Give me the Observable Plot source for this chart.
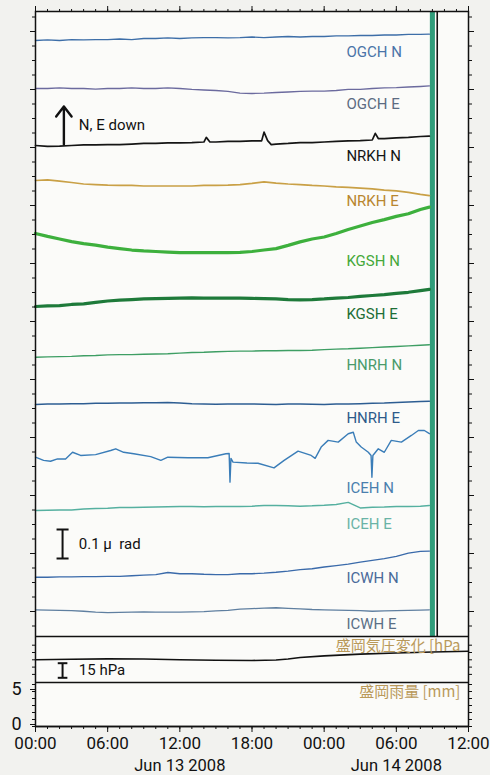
<!DOCTYPE html>
<html><head><meta charset="utf-8">
<script src="https://cdn.jsdelivr.net/npm/d3@7"></script>
<script src="https://cdn.jsdelivr.net/npm/@observablehq/plot@0.6"></script>
<style>
html,body{margin:0;padding:0;background:#f2f2ef;}
#chart{width:490px;height:775px;}
</style></head><body><div id="chart"></div>
<script>
// ================= DATA =================
// time in hours after 2008-06-13 00:00 (JST)
const hours = [0,1,2,3,4,5,6,7,8,9,10,11,12,13,14,15,16,17,18,19,20,21,22,23,24,25,26,27,28,29,30,31,32,32.75];
// tilt change (nrad), N / E down positive
const OGCH_N = [0,2,0,3,2,3,3,5,3,7,7,9,7,9,10,10,9,10,12,10,12,14,12,14,14,16,16,17,17,19,19,21,21,22];
const OGCH_E = [0,0,2,0,0,-2,0,0,2,0,0,2,0,-3,-5,-7,-10,-16,-17,-16,-14,-12,-10,-9,-9,-7,-3,-3,0,2,3,5,7,9];
const NRKH_N_hours = [0,1,2,3,4,5,6,7,8,9,10,11,12,13,14,14.2,14.5,15,16,17,18,18.8,19.0,19.3,19.6,20,21,22,23,24,25,26,27,28,28.25,28.5,29,30,31,32,32.75];
const NRKH_N = [0,-3,-2,0,2,2,3,3,5,7,7,9,9,10,12,28,12,12,14,14,16,16,46,17,3,5,7,10,10,12,14,16,17,19,42,24,24,26,28,31,32];
const NRKH_E = [0,2,-2,-7,-12,-14,-16,-17,-17,-19,-19,-19,-19,-19,-17,-17,-16,-14,-10,-5,-9,-12,-14,-17,-19,-22,-24,-26,-29,-33,-36,-41,-48,-52];
const KGSH_N = [0,-10,-19,-28,-35,-40,-47,-52,-57,-60,-62,-64,-66,-66,-66,-66,-66,-65,-62,-57,-52,-41,-29,-19,-12,0,14,26,38,48,59,68,83,91];
const KGSH_E = [0,2,3,7,9,14,19,22,24,26,27,28,29,30,29,29,29,29,28,27,26,24,23,24,26,29,31,35,38,41,45,49,55,59];
const HNRH_N = [0,1,2,3,5,6,8,9,9,10,11,12,14,16,17,19,20,21,21,22,22,23,23,24,26,28,29,31,33,35,37,39,41,43];
const HNRH_E = [0,2,2,3,3,4,4,5,5,6,6,7,5,3,2,1,2,2,2,1,0,2,2,1,0,2,2,3,4,5,7,9,10,11];
const ICEH_N_hours = [0,0.67,1.25,1.83,2.5,3.08,3.75,5.0,6.25,6.67,7.33,8.17,9.58,10.42,11.0,12.67,14.33,15.83,16.1,16.17,16.25,16.42,17.58,18.5,19.83,20.67,21.83,22.92,23.25,23.75,24.33,25.17,26.0,26.42,26.67,27.08,27.67,27.9,27.97,28.05,28.5,29.0,29.58,30.42,31.25,31.83,32.33,32.75];
const ICEH_N = [0,-11,-14,-6,-6,17,6,9,23,29,17,12,2,-11,0,-2,-2,12,13,-86,-4,-17,-20,-21,-37,-11,21,6,-4,35,58,52,81,86,52,35,17,6,-69,6,29,17,58,52,75,92,92,81];
const ICEH_E = [0,1,2,2,5,7,8,10,10,11,12,13,14,14,13,14,14,14,15,17,17,16,15,16,18,21,28,9,11,12,14,14,15,17];
const ICWH_N = [0,0,1,1,2,2,3,3,5,7,9,16,12,12,10,9,9,12,12,14,17,21,26,29,35,40,45,52,58,64,72,83,89,90];
const ICWH_E = [0,-1,-2,-3,-5,-8,-10,-9,-8,-7,-8,-8,-8,-7,-6,-4,-2,2,4,6,7,5,3,1,0,-1,-2,-3,-5,-4,-3,-2,-1,0];
// Morioka pressure change (hPa) and rainfall (mm)
const pressureHours = [0,3,6,9,12,15,18,20,21,22,24,27,30,33,36];
const pressure = [0,0.5,1,0.8,0,-0.5,-0.7,-0.2,0.8,2.3,4,5.8,7,8,8.8];
const rainHours = [0,6,12,18,24,30,36];
const rain = [0,0,0,0,0,0,0];
// earthquake marker (hours)
const eventBand = [32.83, 33.25];
const eventLine = 33.4;
// labels
const stationNames = ["OGCH N","OGCH E","NRKH N","NRKH E","KGSH N","KGSH E","HNRH N","HNRH E","ICEH N","ICEH E","ICWH N","ICWH E"];
const tickHours = [0,6,12,18,24,30,36];
const tickLabels = ["00:00","06:00","12:00","18:00","00:00","06:00","12:00"];
const dateHours = [12,30];
const dateLabels = ["Jun 13 2008","Jun 14 2008"];
const rainTickLabels = ["0","5"];
const tiltScaleValue = 0.1;   // μrad
const pressureScaleValue = 15; // hPa

// ================= LAYOUT =================
const t0 = Date.UTC(2008,5,13,0,0);
const T = h => new Date(t0 + h*3600e3);
const PXU = 290;                       // px per μrad
const py = p => (611 - p)/PXU;         // layout helper (frame px -> y units)
const yMin = py(726), yMax = py(11);
const offsets = [py(40),py(88),py(145),py(180),py(233),py(306),py(356.7),py(404),py(456.7),py(510),py(576.7),py(609.3)];
const labelYs = [py(52),py(104),py(156),py(201),py(261),py(314),py(365),py(418),py(488),py(524),py(578),py(624)];
const traceColors = ["#3d6ea8","#6b6a9e","#151515","#c9a046","#3db03d","#1e7a3a","#3e9e64","#2d5d92","#3a7db8","#55b0a0","#3a6aaa","#5f7fa0"];
const labelColors = ["#4a74a8","#5b6b82","#151515","#b8862f","#45a83a","#1d6e36","#4a9a6a","#2d5a8a","#4a7fae","#6ab3a6","#4a6a9a","#5a6f86"];
const traceWidths = [1.4,1.4,1.7,1.7,3.2,3.2,1.4,1.5,1.4,1.5,1.4,1.3];
const traceHours = [hours,hours,NRKH_N_hours,hours,hours,hours,hours,hours,ICEH_N_hours,hours,hours,hours];
const traceValues = [OGCH_N,OGCH_E,NRKH_N,NRKH_E,KGSH_N,KGSH_E,HNRH_N,HNRH_E,ICEH_N,ICEH_E,ICWH_N,ICWH_E];
const yP0 = py(659.3), gainP = (14.6/15)/PXU;
const yR0 = py(726), gainR = 7/PXU;
const tiltBottom = py(636), pressBottom = py(682);
const FONT = "Roboto, 'Noto Sans', sans-serif";

const marks = [Plot.frame({fill:"#fbfbf9", stroke:"none"})];

// event band
marks.push(Plot.rect([0], {x1: () => T(eventBand[0]), x2: () => T(eventBand[1]), y1: tiltBottom, y2: yMax, fill: "#2f9c7a"}));
marks.push(Plot.ruleX([T(eventLine)], {y1: tiltBottom, y2: yMax, stroke: "#111", strokeWidth: 1.6}));

// traces
stationNames.forEach((name, k) => {
  const rows = traceHours[k].map((h,i) => ({t: T(h), y: offsets[k] + traceValues[k][i]/1000}));
  marks.push(Plot.line(rows, {x: "t", y: "y", stroke: traceColors[k], strokeWidth: traceWidths[k], strokeLinejoin: "round"}));
  marks.push(Plot.text([name], {x: () => T(25.85), y: () => labelYs[k], text: d => d, textAnchor: "start",
    fill: labelColors[k], fontSize: 15, fontFamily: FONT}));
});

// panel separators
marks.push(Plot.ruleY([tiltBottom, pressBottom], {stroke: "#111", strokeWidth: 1.5}));
// pressure
marks.push(Plot.line(pressureHours.map((h,i) => ({t: T(h), y: yP0 + pressure[i]*gainP})), {x:"t", y:"y", stroke:"#111", strokeWidth: 1.6}));
// rain
marks.push(Plot.line(rainHours.map((h,i) => ({t: T(h), y: yR0 + rain[i]*gainR})), {x:"t", y:"y", stroke:"#111", strokeWidth: 1.5}));

// panel titles
marks.push(Plot.text(["盛岡気圧変化 [hPa"], {x: () => T(35.33), y: () => yP0 + 13.7*gainP, text: d=>d, textAnchor: "end", fill: "#b9995a", fontSize: 15, fontFamily: "'Noto Sans CJK JP', sans-serif"}));
marks.push(Plot.text(["盛岡雨量 [mm]"], {x: () => T(35.33), y: () => yR0 + 4.9*gainR, text: d=>d, textAnchor: "end", fill: "#b9995a", fontSize: 15, fontFamily: "'Noto Sans CJK JP', sans-serif"}));

// arrow annotation
marks.push(Plot.arrow([0], {x1: () => T(2.36), x2: () => T(2.36), y1: py(144), y2: py(106), stroke: "#111", strokeWidth: 2.4, headLength: 12, headAngle: 75}));
marks.push(Plot.text(["N, E down"], {x: () => T(3.6), y: () => py(125), text: d=>d, textAnchor: "start", fill: "#111", fontSize: 15, fontFamily: FONT}));

// scale bars
const tb = py(558);
const bar = (xh, yA, yB, half) => [
  Plot.link([0], {x1: () => T(xh), x2: () => T(xh), y1: yA, y2: yB, stroke: "#111", strokeWidth: 2}),
  Plot.link([0], {x1: () => T(xh-half), x2: () => T(xh+half), y1: yA, y2: yA, stroke: "#111", strokeWidth: 2}),
  Plot.link([0], {x1: () => T(xh-half), x2: () => T(xh+half), y1: yB, y2: yB, stroke: "#111", strokeWidth: 2})
];
marks.push(...bar(2.25, tb, tb + tiltScaleValue, 0.5));
marks.push(Plot.text(["0.1 μ  rad"], {x: () => T(3.6), y: () => tb + tiltScaleValue/2, text: d=>d, textAnchor: "start", fill: "#111", fontSize: 15, fontFamily: FONT}));
const pbTop = yP0 - 3.5*gainP;
marks.push(...bar(2.25, pbTop - pressureScaleValue*gainP, pbTop, 0.4));
marks.push(Plot.text(["15 hPa"], {x: () => T(3.6), y: () => pbTop - pressureScaleValue*gainP/2, text: d=>d, textAnchor: "start", fill: "#111", fontSize: 15, fontFamily: FONT}));

// axes
const hourTicks = d3.range(0, 37).map(T);
const majorTicks = tickHours.map(T);
const blank = () => "";
marks.push(Plot.axisX(hourTicks, {anchor: "top", tickSize: 3, tickFormat: blank, label: null}));
marks.push(Plot.axisX(majorTicks, {anchor: "top", tickSize: 6, tickFormat: blank, label: null}));
marks.push(Plot.axisX(hourTicks, {anchor: "bottom", tickSize: 3, tickFormat: blank, label: null}));
marks.push(Plot.axisX(majorTicks, {anchor: "bottom", tickSize: 6, tickPadding: 4, label: null,
  tickFormat: d => tickLabels[tickHours.indexOf(Math.round((+d - t0)/3600e3))], fontSize: 17, fontFamily: FONT}));
marks.push(Plot.text(dateLabels, {x: (d,i) => T(dateHours[i]), frameAnchor: "bottom", dy: 44, text: d=>d, fill: "#111", fontSize: 16.5, fontFamily: FONT}));

const tiltMinor = d3.range(-1, 42).map(k => k*0.05);
const tiltMajor = d3.range(0, 11).map(k => k*0.2);
const pressTicks = [-15,-7.5,0,7.5,15].map(v => yP0 + v*gainP);
const rainMinor = [0,1,2,3,4,5,6].map(v => yR0 + v*gainR);
const rainMajor = [0,5].map(v => yR0 + v*gainR);
for (const anchor of ["left","right"]) {
  marks.push(Plot.axisY(tiltMinor, {anchor, tickSize: 3, tickFormat: blank, label: null}));
  marks.push(Plot.axisY(tiltMajor, {anchor, tickSize: 5, tickFormat: blank, label: null}));
  marks.push(Plot.axisY(pressTicks, {anchor, tickSize: 3, tickFormat: blank, label: null}));
  marks.push(Plot.axisY(rainMinor, {anchor, tickSize: 3, tickFormat: blank, label: null}));
}
marks.push(Plot.axisY(rainMajor, {anchor: "left", tickSize: 5, tickPadding: 9, label: null, dy: -2,
  tickFormat: (d) => rainTickLabels[rainMajor.indexOf(d)], fontSize: 18, fontFamily: FONT}));

marks.push(Plot.frame({stroke: "#111", strokeWidth: 1.5}));

const chart = Plot.plot({
  width: 490, height: 775,
  marginLeft: 35, marginRight: 22, marginTop: 11, marginBottom: 49,
  style: {background: "transparent", color: "#111", fontFamily: FONT},
  x: {type: "utc", domain: [T(0), T(36)]},
  y: {type: "linear", domain: [yMin, yMax]},
  marks
});
document.getElementById("chart").appendChild(chart);
</script></body></html>
